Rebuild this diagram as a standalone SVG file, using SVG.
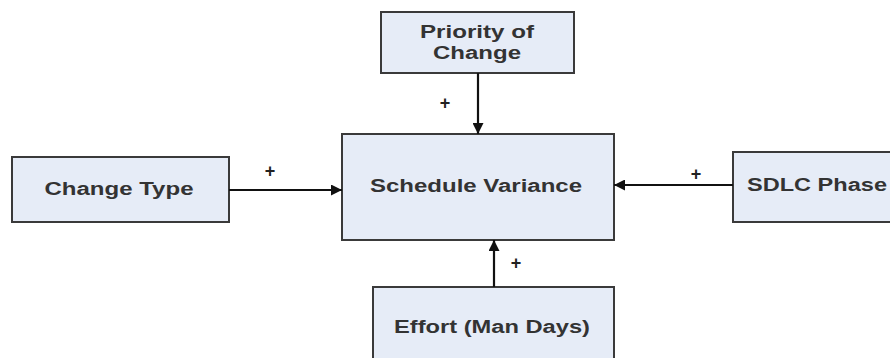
<svg xmlns="http://www.w3.org/2000/svg" width="890" height="358" viewBox="0 0 890 358">
<style>
.box{fill:#e6ecf7;stroke:#3a3a3a;stroke-width:2}
.lbl{font-family:"Liberation Sans",Arial,sans-serif;font-weight:bold;font-size:18px;fill:#333;text-anchor:middle}
.pl{font-family:"Liberation Sans",Arial,sans-serif;font-weight:bold;font-size:18px;fill:#222;text-anchor:middle}
.con{stroke:#111;stroke-width:2.2;fill:none;marker-end:url(#ah)}
</style>
<defs>
<marker id="ah" viewBox="0 0 10 10" refX="10" refY="5" markerWidth="11" markerHeight="11" markerUnits="userSpaceOnUse" orient="auto">
<path d="M0,0 L10,5 L0,10 Z" fill="#111"/>
</marker>
</defs>
<rect width="890" height="358" fill="#fff"/>
<g id="priority">
<rect class="box" x="381" y="12" width="193" height="61"/>
<text class="lbl" x="477" y="38" textLength="114" lengthAdjust="spacingAndGlyphs">Priority of</text>
<text class="lbl" x="477" y="59" textLength="88" lengthAdjust="spacingAndGlyphs">Change</text>
</g>
<g id="schedule">
<rect class="box" x="342" y="134" width="272" height="106"/>
<text class="lbl" x="476" y="192" textLength="212" lengthAdjust="spacingAndGlyphs">Schedule Variance</text>
</g>
<g id="changetype">
<rect class="box" x="12" y="157" width="217" height="65"/>
<text class="lbl" x="119" y="195" textLength="149" lengthAdjust="spacingAndGlyphs">Change Type</text>
</g>
<g id="sdlc">
<rect class="box" x="733" y="152" width="170" height="70"/>
<text class="lbl" x="817" y="191" textLength="140" lengthAdjust="spacingAndGlyphs">SDLC Phase</text>
</g>
<g id="effort">
<rect class="box" x="373" y="287" width="241" height="80"/>
<text class="lbl" x="492" y="333" textLength="196" lengthAdjust="spacingAndGlyphs">Effort (Man Days)</text>
</g>
<g id="connectors">
<line class="con" x1="478" y1="73" x2="478" y2="134"/>
<line class="con" x1="229" y1="190" x2="342" y2="190"/>
<line class="con" x1="733" y1="185" x2="614" y2="185"/>
<line class="con" x1="494" y1="287" x2="494" y2="240"/>
<text class="pl" x="445" y="109">+</text>
<text class="pl" x="270" y="177">+</text>
<text class="pl" x="696" y="180">+</text>
<text class="pl" x="516" y="269">+</text>
</g>
</svg>
